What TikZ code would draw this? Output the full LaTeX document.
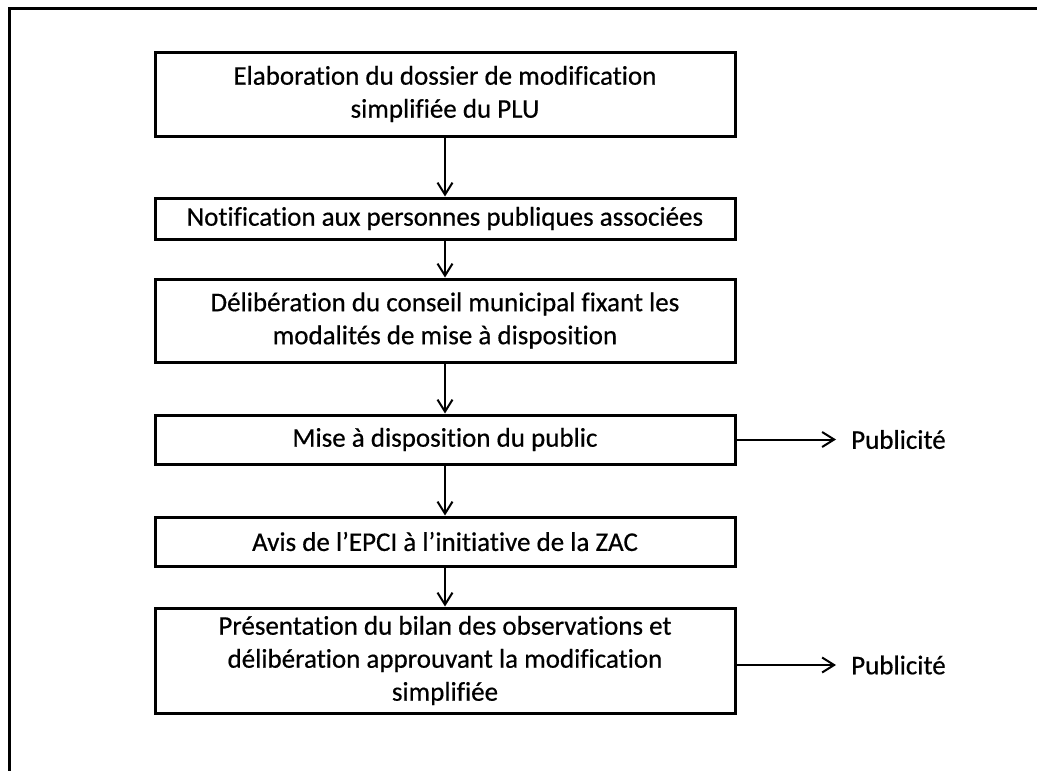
\documentclass[tikz,border=0pt]{standalone}
\usepackage{fontspec}
\setmainfont{Carlito}[FakeBold=0.5, Ligatures=NoCommon]
\usetikzlibrary{arrows.meta}

\begin{document}
\begin{tikzpicture}[x=1pt,y=-1pt,
    etape/.style={draw, line width=3pt, minimum width=580pt, inner sep=0pt,
      align=center, font=\fontsize{27}{33}\selectfont},
    fleche/.style={line width=2pt,
      -{Straight Barb[length=12pt,width=15pt,line width=2pt]}},
    pub/.style={anchor=west, inner xsep=15pt, font=\fontsize{27}{33}\selectfont}]

                \useasboundingbox (0,0) rectangle (1037,771);

                % Cadre (coupe a droite et en bas)
                \draw[line width=3pt] (9,775) -- (9,8) -- (1040,8);

                % Etapes
                \node[etape, minimum height=84pt] (elab) at (445,94)
                  {Elaboration du dossier de modification\\simplifiée du PLU};
                \node[etape, minimum height=41pt] (notif) at (445,218.5)
                  {Notification aux personnes publiques associées};
                \node[etape, minimum height=83pt] (delib) at (445,320.5)
                  {Délibération du conseil municipal fixant les\\modalités de mise à disposition};
                \node[etape, minimum height=49pt] (mise) at (445,439.5)
                  {Mise à disposition du public};
                \node[etape, minimum height=49pt] (avis) at (445,541.5)
                  {Avis de l’EPCI à l’initiative de la ZAC};
                \node[etape, minimum height=105pt] (bilan) at (445,660.5)
                  {Présentation du bilan des observations et\\délibération approuvant la modification\\simplifiée};

                % Publicite
                \node[pub] (pubmise) at (836,439.5) {Publicité};
                \node[pub] (pubbilan) at (836,665) {Publicité};

                % Fleches
                \draw[fleche] (elab) -- (notif);
                \draw[fleche] (notif) -- (delib);
                \draw[fleche] (delib) -- (mise);
                \draw[fleche] (mise) -- (avis);
                \draw[fleche] (avis) -- (bilan);
                \draw[fleche] (mise) -- (pubmise);
                \draw[fleche] (bilan.east |- pubbilan) -- (pubbilan);

\end{tikzpicture}
\end{document}
